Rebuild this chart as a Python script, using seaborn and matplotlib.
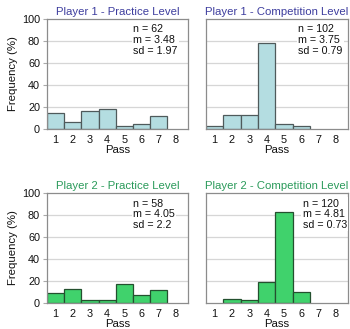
import matplotlib
matplotlib.use("Agg")
import matplotlib.pyplot as plt
import seaborn as sns
import pandas as pd

# ---- data ----
p1_practice_pass = [1, 2, 3, 4, 5, 6, 7]
p1_practice_freq = [14.5, 6.0, 16.4, 18.2, 2.7, 4.8, 12.1]
p1_comp_pass = [1, 2, 3, 4, 5, 6]
p1_comp_freq = [2.7, 12.4, 12.4, 77.9, 4.8, 3.0]
p2_practice_pass = [1, 2, 3, 4, 5, 6, 7]
p2_practice_freq = [9.1, 12.7, 3.0, 3.0, 17.6, 7.3, 11.5]
p2_comp_pass = [2, 3, 4, 5, 6]
p2_comp_freq = [3.9, 3.0, 19.1, 82.7, 10.0]

titles = ["Player 1 - Practice Level", "Player 1 - Competition Level",
          "Player 2 - Practice Level", "Player 2 - Competition Level"]
stats = ["n = 62\nm = 3.48\nsd = 1.97", "n = 102\nm = 3.75\nsd = 0.79",
         "n = 58\nm = 4.05\nsd = 2.2", "n = 120\nm = 4.81\nsd = 0.73"]
x_ticks = [1, 2, 3, 4, 5, 6, 7, 8]
y_ticks = [0, 20, 40, 60, 80, 100]

sns.set_theme(style="white")
plt.rcParams['font.family'] = ['Liberation Sans', 'DejaVu Sans']

fig = plt.figure(figsize=(3.5, 3.29), dpi=100)
W, H = 350, 329
def ax_at(x0, y0, x1, y1):
    return fig.add_axes([x0 / W, 1 - y1 / H, (x1 - x0) / W, (y1 - y0) / H])

axes = [ax_at(47, 19, 188, 129), ax_at(206, 19, 348, 129),
        ax_at(47, 193, 188, 303), ax_at(206, 193, 348, 303)]

datasets = [(p1_practice_pass, p1_practice_freq), (p1_comp_pass, p1_comp_freq),
            (p2_practice_pass, p2_practice_freq), (p2_comp_pass, p2_comp_freq)]
fills = ["#b4dde1", "#b4dde1", "#40d26c", "#40d26c"]
edges = ["#4f5a5b", "#4f5a5b", "#24502f", "#24502f"]
title_colors = ["#3d3d9e", "#3d3d9e", "#2a9a5a", "#2a9a5a"]
text_x = [0.61, 0.65, 0.61, 0.68]

for i, ax in enumerate(axes):
    px, fq = datasets[i]
    df = pd.DataFrame({"Pass": px, "Freq": fq})
    for y in [20, 40, 60, 80]:
        ax.axhline(y, color="#d6d6d6", lw=0.9, zorder=0)
    sns.barplot(data=df, x="Pass", y="Freq", native_scale=True, width=1,
                color=fills[i], edgecolor=edges[i], linewidth=0.9,
                saturation=1, ax=ax, zorder=2)
    ax.set_xlim(0.5, 8.7)
    ax.set_ylim(0, 100)
    ax.set_xticks(x_ticks)
    ax.set_xticklabels([str(t) for t in x_ticks], fontsize=7.8)
    ax.set_yticks(y_ticks)
    ax.tick_params(axis="x", length=0, pad=4, colors="#111111")
    if i % 2 == 0:
        ax.set_yticklabels([str(t) for t in y_ticks], fontsize=7.8)
        ax.tick_params(axis="y", length=3, width=0.8, color="#aaaaaa",
                       labelcolor="#111111", pad=2, left=True)
        ax.set_ylabel("Frequency (%)", fontsize=8.2, color="#111111", labelpad=3)
    else:
        ax.set_yticklabels([])
        ax.tick_params(axis="y", length=0)
        ax.set_ylabel("")
    ax.set_xlabel("Pass", fontsize=8.2, color="#111111", labelpad=0)
    ax.set_title(titles[i], fontsize=8.2, color=title_colors[i], pad=3)
    for s in ax.spines.values():
        s.set_color("#8c8c8c")
        s.set_linewidth(0.9)
    ax.text(text_x[i], 0.95, stats[i], transform=ax.transAxes, fontsize=7.7,
            va="top", ha="left", color="#111111", linespacing=1.08,
            bbox=dict(facecolor="white", edgecolor="none", pad=1), zorder=5)

fig.savefig("out.png", dpi=100)
